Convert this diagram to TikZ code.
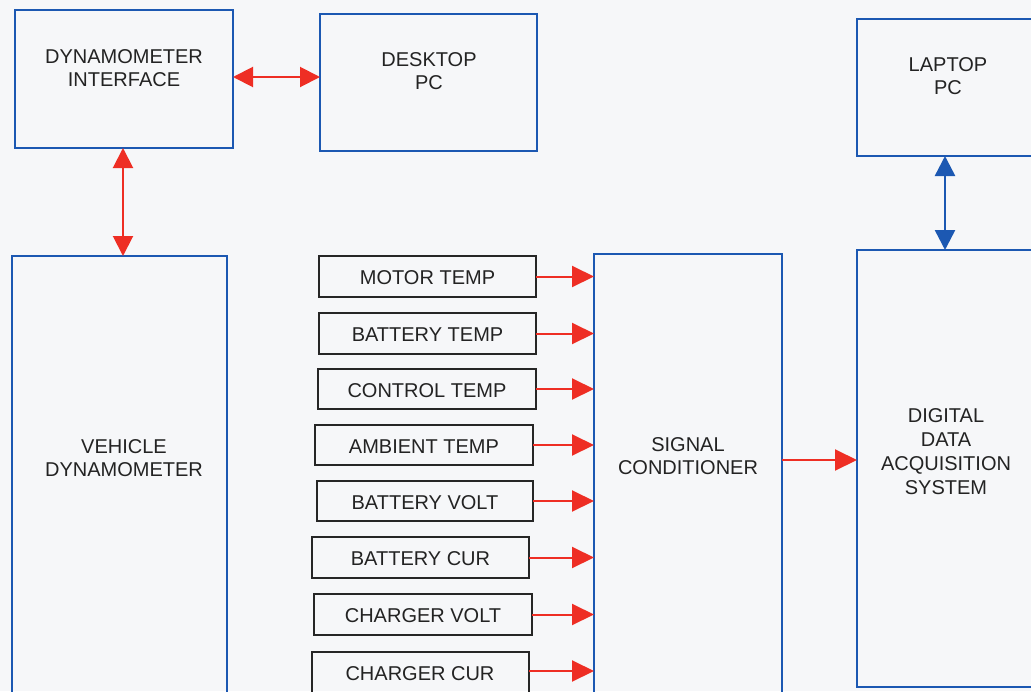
\documentclass[tikz,border=0pt]{standalone}
\usepackage{fontspec}
\setmainfont{Liberation Sans}
\usetikzlibrary{arrows.meta}
\definecolor{bg}{RGB}{246,247,249}
\definecolor{bbl}{RGB}{28,88,178}
\definecolor{arr}{RGB}{238,46,36}
\definecolor{txt}{RGB}{35,35,35}
\begin{document}
\begin{tikzpicture}[x=1pt,y=-1pt,
  every node/.style={font=\fontsize{20}{22.5}\selectfont, text=txt, inner sep=0pt, outer sep=0pt},
  bluebox/.style={draw=bbl, line width=2pt, anchor=north west},
  sensor/.style={draw=black!85, line width=2pt, anchor=north west, minimum height=41pt},
  lab/.style={align=center},
  redarr/.style={draw=arr, line width=2pt, -{Triangle[length=22pt,width=21pt]}},
  redbi/.style={draw=arr, line width=2pt, {Triangle[length=20pt,width=20pt]}-{Triangle[length=20pt,width=20pt]}},
  bluebi/.style={draw=bbl, line width=2.5pt, {Triangle[length=20pt,width=20pt]}-{Triangle[length=20pt,width=20pt]}}]
\fill[bg] (0,0) rectangle (1031,691);
\useasboundingbox (0,0) rectangle (1031,691);
\clip (0,0) rectangle (1031,691);
% blue boxes
\node[bluebox, minimum width=218pt, minimum height=138pt] (di) at (15,10) {};
\node[bluebox, minimum width=217pt, minimum height=137pt] (dpc) at (320,14) {};
\node[bluebox, minimum width=179pt, minimum height=137pt] (lp) at (857,19) {};
\node[bluebox, minimum width=179pt, minimum height=437pt] (daq) at (857,250) {};
\node[bluebox, minimum width=188pt, minimum height=470pt] (sc) at (594,254) {};
\node[bluebox, minimum width=215pt, minimum height=470pt] (vd) at (12,256) {};
% labels
\node[lab] (dil) at (124,68) {DYNAMOMETER\\INTERFACE};
\node[lab] (dpcl) at (429,71) {DESKTOP\\PC};
\node[lab] (lpl) at (948,76) {LAPTOP\\PC};
\node[lab] (vdl) at (124,458) {VEHICLE\\DYNAMOMETER};
\node[lab] (scl) at (688,456) {SIGNAL\\CONDITIONER};
\node[lab, font=\fontsize{20}{24}\selectfont] (daql) at (946,452) {DIGITAL\\DATA\\ACQUISITION\\SYSTEM};
% sensors
\node[sensor, minimum width=217pt] (s1) at (319,256) {};
\node (s1l) at ([yshift=-1.5pt]s1.center) {MOTOR TEMP};
\node[sensor, minimum width=217pt] (s2) at (319,313) {};
\node (s2l) at ([yshift=-1.5pt]s2.center) {BATTERY TEMP};
\node[sensor, minimum width=218pt, minimum height=40pt] (s3) at (318,369) {};
\node (s3l) at ([yshift=-1.5pt]s3.center) {CONTROL TEMP};
\node[sensor, minimum width=218pt, minimum height=40pt] (s4) at (315,425) {};
\node (s4l) at ([yshift=-1.5pt]s4.center) {AMBIENT TEMP};
\node[sensor, minimum width=216pt, minimum height=40pt] (s5) at (317,481) {};
\node (s5l) at ([yshift=-1.5pt]s5.center) {BATTERY VOLT};
\node[sensor, minimum width=217pt] (s6) at (312,537) {};
\node (s6l) at ([yshift=-1.5pt]s6.center) {BATTERY CUR};
\node[sensor, minimum width=218pt] (s7) at (314,594) {};
\node (s7l) at ([yshift=-1.5pt]s7.center) {CHARGER VOLT};
\node[sensor, minimum width=217pt, minimum height=60pt] (s8) at (312,652) {};
\node (s8l) at (420,674) {CHARGER CUR};
% connectors
\draw[redbi] (di.east |- 0,77) -- (dpc.west |- 0,77);
\draw[redbi] (di.south -| 123,0) -- (vd.north -| 123,0);
\draw[bluebi] (lp.south -| 945,0) -- (daq.north -| 945,0);
\foreach \i in {1,...,7} {
  \draw[redarr] (s\i.east) -- (s\i.east -| sc.west);
}
\draw[redarr] (s8.east |- 0,671) -- (sc.west |- 0,671);
\draw[redarr] (sc.east |- 0,460) -- (daq.west |- 0,460);
\end{tikzpicture}
\end{document}
